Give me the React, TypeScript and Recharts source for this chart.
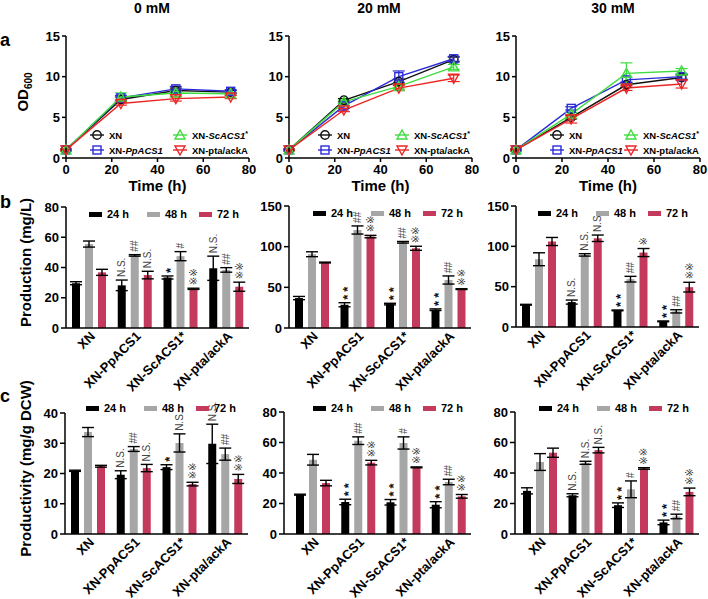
import React from 'react';
import { LineChart, Line, BarChart, Bar, XAxis, YAxis, ErrorBar, LabelList, Legend, Label } from 'recharts';

const FONT = '"Liberation Sans", Arial, "DejaVu Sans", sans-serif';

const hours = [0, 24, 48, 72];
const strains = ['XN', 'XN-PpACS1', 'XN-ScACS1*', 'XN-pta/ackA'];
const timeLabels = ['24 h', '48 h', '72 h'];
const concLabels = ['0 mM', '20 mM', '30 mM'];

// OD600 growth, one row per strain (XN, PpACS1, ScACS1*, pta/ackA), columns = 0/24/48/72 h
const od0 = [[1, 7.2, 8.3, 8.1], [1, 7.4, 8.5, 8.2], [1, 7.5, 8.0, 7.9], [1, 6.7, 7.3, 7.5]];
const od0Err = [[0.1, 0.3, 0.3, 0.2], [0.1, 0.3, 0.3, 0.2], [0.1, 0.5, 0.2, 0.2], [0.1, 0.2, 0.3, 0.2]];
const od20 = [[1, 7.1, 9.4, 12.1], [1, 6.4, 10.0, 12.2], [1, 6.9, 8.8, 11.2], [1, 5.9, 8.6, 9.8]];
const od20Err = [[0.1, 0.2, 0.3, 0.3], [0.1, 0.3, 0.7, 0.3], [0.1, 0.2, 0.3, 0.3], [0.1, 0.2, 0.3, 0.4]];
const od30 = [[1, 5.0, 9.0, 9.9], [1, 6.1, 9.6, 10.0], [1, 5.4, 10.4, 10.7], [1, 4.8, 8.6, 9.1]];
const od30Err = [[0.1, 0.2, 0.3, 0.3], [0.1, 0.2, 0.3, 0.3], [0.1, 0.2, 1.3, 0.3], [0.1, 0.5, 0.3, 0.5]];

// production (mg/L), one row per time point (24/48/72 h), columns = strains
const prod0 = [[29.6, 28.2, 33.4, 39.5], [55.5, 48.0, 47.5, 38.4], [36.8, 35.0, 25.9, 27.3]];
const prod0Err = [[1.0, 3.5, 1.0, 8.0], [2.0, 0.5, 3.0, 1.5], [2.0, 2.5, 0.4, 3.0]];
const prod0Sig = [['', 'N.S.', '*', 'N.S.'], ['', '##', '#', '##'], ['', 'N.S.', '※※', '※※']];
const prod20 = [[36.8, 28.6, 29.4, 22.5], [90.7, 120.5, 105.4, 59.0], [80.5, 112.4, 98.0, 47.8]];
const prod20Err = [[2.0, 2.5, 1.0, 1.0], [3.0, 5.0, 1.0, 5.0], [0.5, 1.5, 2.5, 0.5]];
const prod20Sig = [['', '**', '**', '**'], ['', '##', '##', '##'], ['', '※※', '※※', '※※']];
const prod30 = [[27.6, 30.9, 20.6, 7.0], [84.0, 89.4, 59.3, 19.4], [106.0, 110.0, 92.3, 49.4]];
const prod30Err = [[0.5, 2.5, 0.5, 0.5], [8.0, 1.5, 3.5, 2.0], [5.0, 4.0, 5.0, 6.0]];
const prod30Sig = [['', 'N.S.', '**', '**'], ['', 'N.S.', '##', '##'], ['', 'N.S.', '※', '※※']];

// productivity (mg/g DCW)
const prodv0 = [[20.9, 19.6, 22.1, 29.8], [33.7, 28.1, 30.1, 26.4], [22.4, 21.8, 16.5, 18.2]];
const prodv0Err = [[0.2, 1.3, 0.8, 6.5], [1.5, 0.8, 3.0, 2.0], [0.3, 1.2, 0.6, 1.5]];
const prodv0Sig = [['', 'N.S.', '*', 'N.S.'], ['', '##', 'N.S.', '##'], ['', 'N.S.', '※※', '※※']];
const prodv20 = [[25.8, 21.0, 20.8, 19.2], [48.7, 61.2, 59.7, 34.1], [33.4, 46.8, 43.7, 24.7]];
const prodv20Err = [[0.3, 1.8, 1.8, 2.0], [3.5, 2.5, 4.0, 1.8], [1.8, 1.5, 0.3, 1.2]];
const prodv20Sig = [['', '**', '**', '**'], ['', '##', '#', '##'], ['', '※※', '※※', '※※']];
const prodv30 = [[28.3, 25.4, 18.9, 7.6], [47.2, 46.7, 29.3, 11.5], [53.3, 55.0, 43.0, 27.6]];
const prodv30Err = [[2.0, 1.0, 1.5, 1.5], [5.5, 1.0, 5.5, 1.5], [3.0, 1.8, 0.5, 2.5]];
const prodv30Sig = [['', 'N.S.', '**', '**'], ['', 'N.S.', '#', '##'], ['', 'N.S.', '※※', '※※']];

const seriesKeys = ['xn', 'pp', 'sc', 'pta'];
const lineColors = ['#111111', '#2b2bd9', '#3fdc3f', '#ec2525'];
const markerShapes = ['circle', 'square', 'triangle', 'triangleDown'];
const barColors = ['#000000', '#a6a6a6', '#c43a5c'];
const timeKeys = ['24', '48', '72'];

const axisLine = { stroke: '#000', strokeWidth: 1.5 };
const tickStyle = { fill: '#000', fontSize: 13, fontWeight: 'bold', fontFamily: FONT };

function Marker({ shape, cx, cy, color }: any) {
  if (cx == null || cy == null) return null;
  const common = { fill: 'none', stroke: color, strokeWidth: 1.4 };
  if (shape === 'circle') return <circle cx={cx} cy={cy} r={4.2} {...common} />;
  if (shape === 'square') return <rect x={cx - 4} y={cy - 4} width={8} height={8} {...common} />;
  if (shape === 'triangle') return <polygon points={`${cx},${cy - 5} ${cx + 5},${cy + 4} ${cx - 5},${cy + 4}`} {...common} />;
  return <polygon points={`${cx},${cy + 5} ${cx + 5},${cy - 4} ${cx - 5},${cy - 4}`} {...common} />;
}

function strainText(name: string) {
  if (name.includes('ACS1')) {
    const rest = name.slice(3);
    const star = rest.endsWith('*');
    return (
      <>
        XN-<tspan fontStyle="italic">{star ? rest.slice(0, -1) : rest}</tspan>
        {star ? <tspan fontSize="7" dy="-3">*</tspan> : null}
      </>
    );
  }
  return name;
}

function LineLegend({ colGap }: { colGap: number }) {
  return (
    <svg width={200} height={30} style={{ overflow: 'visible' }}>
      {strains.map((s, i) => {
        const col = Math.floor(i / 2);
        const row = i % 2;
        const mx = 7 + col * colGap;
        const my = 7 + row * 15;
        return (
          <g key={s}>
            <line x1={mx - 7} x2={mx + 7} y1={my} y2={my} stroke={lineColors[i]} strokeWidth={1.4} />
            <Marker shape={markerShapes[i]} cx={mx} cy={my} color={lineColors[i]} />
            <text x={mx + 12} y={my + 3.5} fontSize={9.5} fontWeight="bold" fontFamily={FONT} fill="#000">
              {strainText(s)}
            </text>
          </g>
        );
      })}
    </svg>
  );
}

function LinePanel({ plotLeft, plotW, od, odErr, yLabel, legendLeft, colGap }: any) {
  const rows = hours.map((t, j) => {
    const r: any = { t };
    seriesKeys.forEach((k, i) => {
      r[k] = od[i][j];
      r[k + 'E'] = odErr[i][j];
    });
    return r;
  });
  const chartLeft = plotLeft - 60;
  const chartTop = 20;
  return (
    <div style={{ position: 'absolute', left: chartLeft, top: chartTop }}>
      <LineChart width={60 + plotW + 8} height={174} data={rows} margin={{ top: 16, right: 8, bottom: 0, left: 0 }}>
        <XAxis
          dataKey="t"
          type="number"
          domain={[0, 80]}
          ticks={[0, 20, 40, 60, 80]}
          height={36}
          tickSize={4}
          tickMargin={3}
          axisLine={axisLine}
          tickLine={axisLine}
          tick={tickStyle}
        >
          <Label value="Time (h)" position="insideBottom" offset={3} style={{ fontSize: 15, fontWeight: 'bold', fontFamily: FONT, fill: '#000' }} />
        </XAxis>
        <YAxis
          width={60}
          domain={[0, 15]}
          ticks={[0, 5, 10, 15]}
          tickSize={4}
          tickMargin={2}
          axisLine={axisLine}
          tickLine={axisLine}
          tick={tickStyle}
        >
          {yLabel ? (
            <Label
              content={() => (
                <text x={22} y={72} transform="rotate(-90, 22, 72)" textAnchor="middle" fontSize={15} fontWeight="bold" fontFamily={FONT} fill="#000">
                  OD<tspan fontSize={10} dy={4}>600</tspan>
                </text>
              )}
            />
          ) : null}
        </YAxis>
        <Legend
          layout="horizontal"
          verticalAlign="middle"
          align="center"
          wrapperStyle={{ left: legendLeft - chartLeft, top: 128 - chartTop, width: 200, height: 30 }}
          content={() => <LineLegend colGap={colGap} />}
        />
        {seriesKeys.map((k, i) => (
          <Line
            key={k}
            dataKey={k}
            type="linear"
            stroke={lineColors[i]}
            strokeWidth={1.4}
            isAnimationActive={false}
            dot={(p: any) => <Marker key={`${k}-${p.index}`} shape={markerShapes[i]} cx={p.cx} cy={p.cy} color={lineColors[i]} />}
          >
            <ErrorBar dataKey={k + 'E'} width={6} stroke={lineColors[i]} strokeWidth={1.2} direction="y" />
          </Line>
        ))}
      </LineChart>
    </div>
  );
}

const StrainTick = (props: any) => {
  const { x, y, payload } = props;
  const ax = x + 7;
  const ay = y + 9;
  return (
    <text x={ax} y={ay} transform={`rotate(-45, ${ax}, ${ay})`} textAnchor="end" fontSize={13} fontWeight="bold" fontFamily={FONT} fill="#000">
      {payload.value}
    </text>
  );
};

const sigLabel = (rows: any[], j: number) => (props: any) => {
  const vb = props.viewBox && props.viewBox.width != null ? props.viewBox : props;
  const { x, y, width, height } = vb;
  const idx = props.index;
  const text = props.value;
  if (!text || idx == null || !rows[idx]) return null;
  const v = rows[idx]['h' + timeKeys[j]];
  const e = rows[idx]['e' + timeKeys[j]];
  const pxPer = Math.abs(height) / v;
  const cx = x + width / 2;
  const top = Math.min(y, y + height) - e * pxPer - 3;
  const stars = /^\*+$/.test(text);
  return (
    <text
      x={cx}
      y={top}
      dy={stars ? 3.5 : 0}
      transform={`rotate(-90, ${cx}, ${top})`}
      textAnchor="start"
      dominantBaseline="central"
      fontSize={stars ? 13 : 10}
      fontWeight={stars ? 'bold' : 'normal'}
      letterSpacing={stars ? 3 : 0}
      fontFamily={FONT}
      fill={stars ? '#111' : '#444'}
    >
      {text}
    </text>
  );
};

function BarLegend() {
  return (
    <div style={{ display: 'flex', alignItems: 'center', fontFamily: FONT, fontWeight: 'bold', fontSize: 11, color: '#000', height: 14 }}>
      {timeLabels.map((t, j) => (
        <div key={t} style={{ width: j === 0 ? 58 : 52, display: 'flex', alignItems: 'center', flex: 'none' }}>
          <span style={{ display: 'inline-block', width: 13, height: 5, background: barColors[j], marginRight: 5 }} />
          {t}
        </div>
      ))}
    </div>
  );
}

function BarPanel({ plotLeft, plotW, plotTop, plotH, mean, err, sig, yMax, yTicks, yLabel, legendLeft, legendY, padLeft = 0, axisH = 62 }: any) {
  const rows = strains.map((g, i) => ({
    g,
    h24: mean[0][i], h48: mean[1][i], h72: mean[2][i],
    e24: err[0][i], e48: err[1][i], e72: err[2][i],
    s24: sig[0][i], s48: sig[1][i], s72: sig[2][i],
  }));
  const chartLeft = plotLeft - 60;
  const chartTop = plotTop - 10;
  const labelX = 31 - chartLeft;
  const labelY = 10 + plotH / 2 - 5;
  return (
    <div style={{ position: 'absolute', left: chartLeft, top: chartTop }}>
      <BarChart
        width={60 + plotW + 8}
        height={10 + plotH + axisH}
        data={rows}
        margin={{ top: 10, right: 8, bottom: 0, left: 0 }}
        barSize={8}
        barGap={5}
      >
        <XAxis
          dataKey="g"
          interval={0}
          tickLine={false}
          tickSize={0}
          tickMargin={0}
          height={axisH}
          axisLine={axisLine}
          tick={<StrainTick />}
          padding={{ left: padLeft, right: 0 }}
        />
        <YAxis
          width={60}
          domain={[0, yMax]}
          ticks={yTicks}
          tickSize={5}
          tickMargin={2}
          axisLine={axisLine}
          tickLine={axisLine}
          tick={tickStyle}
        >
          {yLabel ? (
            <Label
              content={() => (
                <text x={labelX} y={labelY} transform={`rotate(-90, ${labelX}, ${labelY})`} textAnchor="middle" fontSize={15} fontWeight="bold" fontFamily={FONT} fill="#000">
                  {yLabel}
                </text>
              )}
            />
          ) : null}
        </YAxis>
        <Legend
          layout="horizontal"
          verticalAlign="middle"
          align="center"
          wrapperStyle={{ left: legendLeft - chartLeft, top: legendY - chartTop - 7, width: 170, height: 14 }}
          content={() => <BarLegend />}
        />
        {timeKeys.map((k, j) => (
          <Bar key={k} dataKey={'h' + k} fill={barColors[j]} isAnimationActive={false}>
            <ErrorBar dataKey={'e' + k} width={6} stroke="#000" strokeWidth={1.4} direction="y" />
            <LabelList dataKey={'s' + k} content={sigLabel(rows, j)} />
          </Bar>
        ))}
      </BarChart>
    </div>
  );
}

const textBold = { position: 'absolute' as const, fontFamily: FONT, fontWeight: 'bold' as const, color: '#000', lineHeight: '16px' };

export default function App() {
  return (
    <div style={{ position: 'absolute', left: 0, top: 0, width: 708, height: 599, background: '#fff', overflow: 'hidden' }}>
      <style>{'.recharts-surface{overflow:visible}'}</style>
      {concLabels.map((c, i) => (
        <div key={c} style={{ ...textBold, fontSize: 14, top: 0, left: [152, 379, 613][i] - 50, width: 100, textAlign: 'center' }}>
          {c}
        </div>
      ))}
      <div style={{ ...textBold, fontSize: 18, left: 0, top: 32 }}>a</div>
      <div style={{ ...textBold, fontSize: 18, left: 0, top: 194 }}>b</div>
      <div style={{ ...textBold, fontSize: 18, left: 0, top: 388 }}>c</div>

      <LinePanel plotLeft={66} plotW={183} od={od0} odErr={od0Err} yLabel legendLeft={90} colGap={83} />
      <LinePanel plotLeft={289} plotW={183} od={od20} odErr={od20Err} legendLeft={318} colGap={77} />
      <LinePanel plotLeft={516} plotW={184} od={od30} odErr={od30Err} legendLeft={550} colGap={74} />

      <BarPanel plotLeft={66} plotW={183} plotTop={207} plotH={121} mean={prod0} err={prod0Err} sig={prod0Sig}
        yMax={80} yTicks={[0, 20, 40, 60, 80]} yLabel="Production (mg/L)" legendLeft={89} legendY={214} />
      <BarPanel plotLeft={289} plotW={182} plotTop={206} plotH={122} mean={prod20} err={prod20Err} sig={prod20Sig}
        yMax={150} yTicks={[0, 50, 100, 150]} legendLeft={313} legendY={213} />
      <BarPanel plotLeft={516} plotW={183} plotTop={206} plotH={121} mean={prod30} err={prod30Err} sig={prod30Sig}
        yMax={150} yTicks={[0, 50, 100, 150]} legendLeft={538} legendY={213} />

      <BarPanel plotLeft={65} plotW={183} plotTop={413} plotH={121} mean={prodv0} err={prodv0Err} sig={prodv0Sig}
        yMax={40} yTicks={[0, 10, 20, 30, 40]} yLabel="Productivity (mg/g DCW)" legendLeft={86} legendY={408} axisH={65} />
      <BarPanel plotLeft={284} plotW={187} plotTop={412} plotH={122} mean={prodv20} err={prodv20Err} sig={prodv20Sig}
        yMax={80} yTicks={[0, 20, 40, 60, 80]} legendLeft={313} legendY={408} padLeft={6} axisH={65} />
      <BarPanel plotLeft={515} plotW={184} plotTop={412} plotH={122} mean={prodv30} err={prodv30Err} sig={prodv30Sig}
        yMax={80} yTicks={[0, 20, 40, 60, 80]} legendLeft={539} legendY={408} padLeft={2} axisH={65} />
    </div>
  );
}
